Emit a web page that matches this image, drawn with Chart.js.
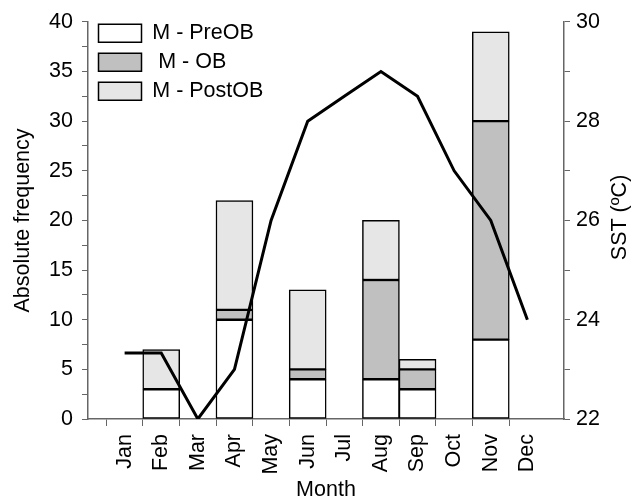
<!DOCTYPE html>
<html lang="en">
<head>
    <meta charset="UTF-8">
    <title>Monthly frequency and SST</title>
    <style>
        html, body { margin: 0; padding: 0; background: #fff; }
        #wrap { width: 632px; height: 503px; }
    </style>
</head>
<body>
    <div id="wrap"><canvas id="chart" width="632" height="503"></canvas></div>

    <script src="https://cdn.jsdelivr.net/npm/chart.js"></script>
    <script>
        var months = ['Jan', 'Feb', 'Mar', 'Apr', 'May', 'Jun', 'Jul', 'Aug', 'Sep', 'Oct', 'Nov', 'Dec'];
        var preOB  = [null, 3, null, 10, null, 4, null, 4, 3, null, 8, null];
        var ob     = [null, 0, null, 1, null, 1, null, 10, 2, null, 22, null];
        var postOB = [null, 4, null, 11, null, 8, null, 6, 1, null, 9, null];
        var sst    = [23.33, 23.33, 22, 23, 26, 28, 28.5, 29, 28.5, 27, 26, 24];
        var freqTicks = [0, 5, 10, 15, 20, 25, 30, 35, 40];
        var sstTicks = [22, 24, 26, 28, 30];

        // empty slot on each side so months sit like the original axis
        var labels = [''].concat(months, ['']);
        function pad(arr) { return [null].concat(arr, [null]); }

        var axisColor = '#666';
        var fontFamily = "'Liberation Sans', Arial, sans-serif";
        var font = { family: fontFamily, size: 21.5 };
        Chart.defaults.color = '#000';

        // right axis title reads bottom-to-top like the left one
        var rightTitle = {
            id: 'rightTitle',
            afterDraw: function (chart) {
                var ctx = chart.ctx, a = chart.chartArea;
                ctx.save();
                ctx.translate(620, (a.top + a.bottom) / 2 - 3);
                ctx.rotate(-Math.PI / 2);
                ctx.font = "21.5px " + fontFamily;
                ctx.fillStyle = '#000';
                ctx.textAlign = 'center';
                ctx.textBaseline = 'middle';
                ctx.fillText('SST (ºC)', 0, 0);
                ctx.restore();
            }
        };

        // nudge the in-plot legend down and right a little
        var legendShift = {
            id: 'legendShift',
            afterLayout: function (chart) {
                var lg = chart.legend;
                if (!lg) return;
                lg.top += 15; lg.bottom += 15;
                lg.left += 3; lg.right += 3;
            }
        };

        var barStyle = { borderColor: '#000', borderWidth: 1.5, borderSkipped: false, barThickness: 37, order: 1 };

        new Chart(document.getElementById('chart'), {
            type: 'bar',
            data: {
                labels: labels,
                datasets: [
                    Object.assign({ label: 'M - PreOB', data: pad(preOB), backgroundColor: '#ffffff' }, barStyle),
                    Object.assign({ label: ' M - OB', data: pad(ob), backgroundColor: '#c0c0c0' }, barStyle),
                    Object.assign({ label: 'M - PostOB', data: pad(postOB), backgroundColor: '#e6e6e6' }, barStyle),
                    {
                        type: 'line', label: 'SST', data: pad(sst), yAxisID: 'y2',
                        borderColor: '#000', borderWidth: 3, pointRadius: 0, tension: 0, order: 0
                    }
                ]
            },
            options: {
                responsive: false,
                animation: false,
                layout: { padding: { top: 19, right: 0, left: 0, bottom: 0 } },
                plugins: {
                    tooltip: { enabled: false },
                    legend: {
                        position: 'chartArea',
                        align: 'start',
                        labels: {
                            font: font,
                            boxWidth: 43,
                            boxHeight: 18,
                            padding: 7.5,
                            filter: function (item) { return item.text !== 'SST'; }
                        }
                    }
                },
                scales: {
                    x: {
                        stacked: true,
                        offset: false,
                        grid: {
                            drawOnChartArea: false,
                            tickLength: 7,
                            color: axisColor,
                            tickColor: function (c) { return (c.index === 0 || c.index === labels.length - 1) ? 'rgba(0,0,0,0)' : axisColor; }
                        },
                        border: { color: axisColor, width: 1.5 },
                        ticks: { font: font, minRotation: 90, maxRotation: 90, padding: 8, autoSkip: false },
                        title: { display: true, text: 'Month', font: font, padding: { top: 0, bottom: 0 } },
                        afterFit: function (s) { s.height = 84; }
                    },
                    y: {
                        stacked: true,
                        min: 0, max: 40,
                        grid: { drawOnChartArea: false, tickLength: 6, color: axisColor },
                        border: { color: axisColor, width: 1.5 },
                        ticks: {
                            font: font, stepSize: 2.5, padding: 9, autoSkip: false,
                            callback: function (v) { return freqTicks.indexOf(v) >= 0 ? v : ''; }
                        },
                        title: { display: true, text: 'Absolute frequency', font: font, padding: { top: 10, bottom: 0 } },
                        afterFit: function (s) { s.width = 88; }
                    },
                    y2: {
                        position: 'right',
                        min: 22, max: 30,
                        grid: { drawOnChartArea: false, tickLength: 6, color: axisColor },
                        border: { color: axisColor, width: 1.5 },
                        ticks: {
                            font: font, stepSize: 1, padding: 6, autoSkip: false,
                            callback: function (v) { return sstTicks.indexOf(v) >= 0 ? v : ''; }
                        },
                        afterFit: function (s) { s.width = 68; }
                    }
                }
            },
            plugins: [rightTitle, legendShift]
        });
    </script>
</body>
</html>
